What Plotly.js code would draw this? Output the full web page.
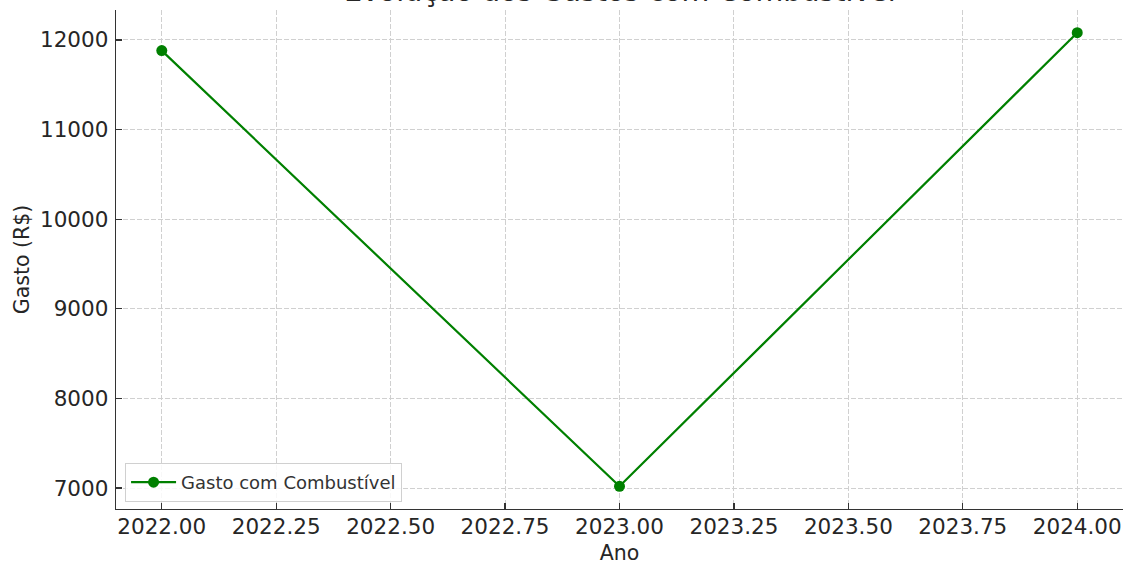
<!DOCTYPE html>
<html>
<head>
<meta charset="utf-8">
<script src="https://cdn.plot.ly/plotly-3.0.1.min.js"></script>
<style>html,body{margin:0;padding:0;background:#fff;}#chart{width:1128px;height:565px;}</style>
</head>
<body>
<div id="chart"></div>
<script>
const years = [2022, 2023, 2024];
const gastos = [11880, 7020, 12080];
const seriesName = "Gasto com Combustível";
const chartTitle = "Evolução dos Gastos com Combustível";
const xTitle = "Ano";
const yTitle = "Gasto (R$)";

const font = "DejaVu Sans, sans-serif";
const trace = {
  x: years, y: gastos, name: seriesName, type: "scatter", mode: "lines+markers",
  line: {color: "#008000", width: 2.2},
  marker: {color: "#008000", size: 11}
};
const layout = {
  width: 1128, height: 565,
  margin: {l: 116, r: 5, t: 10, b: 55.5},
  paper_bgcolor: "#fff", plot_bgcolor: "#fff",
  font: {family: font, color: "#262626"},
  annotations: [{
    text: chartTitle, xref: "paper", yref: "paper", x: 0.5, y: 1,
    xanchor: "center", yanchor: "bottom", showarrow: false, borderpad: 0, yshift: 1,
    font: {family: font, size: 28.5, color: "#262626"}
  }],
  showlegend: true,
  legend: {x: 0.009, y: 0.014, xanchor: "left", yanchor: "bottom", bgcolor: "rgba(255,255,255,0.85)", bordercolor: "#d0d0d0", borderwidth: 1, itemwidth: 45, font: {family: font, size: 18, color: "#333"}},
  xaxis: {
    range: [2021.9, 2024.1], tick0: 2022, dtick: 0.25, tickformat: ".2f",
    showline: true, linecolor: "#333", linewidth: 1.3, mirror: false,
    ticks: "inside", ticklen: 6, tickcolor: "#333", tickwidth: 1.3, ticklabelstandoff: -2,
    showgrid: true, gridcolor: "#d0d0d0", griddash: "5px,2px", gridwidth: 1,
    zeroline: false,
    tickfont: {family: font, size: 21.5, color: "#262626"},
    title: {text: xTitle, font: {family: font, size: 20.5, color: "#262626"}, standoff: 13}
  },
  yaxis: {
    range: [6767, 12333], tick0: 7000, dtick: 1000, tickformat: "d",
    showline: true, linecolor: "#333", linewidth: 1.3, mirror: false,
    ticks: "inside", ticklen: 6, tickcolor: "#333", tickwidth: 1.3, ticklabelstandoff: 2,
    showgrid: true, gridcolor: "#d0d0d0", griddash: "5px,2px", gridwidth: 1,
    zeroline: false,
    tickfont: {family: font, size: 21.5, color: "#262626"},
    title: {text: yTitle, font: {family: font, size: 20.5, color: "#262626"}, standoff: 4}
  }
};
Plotly.newPlot("chart", [trace], layout, {displayModeBar: false, staticPlot: true});
</script>
</body>
</html>
